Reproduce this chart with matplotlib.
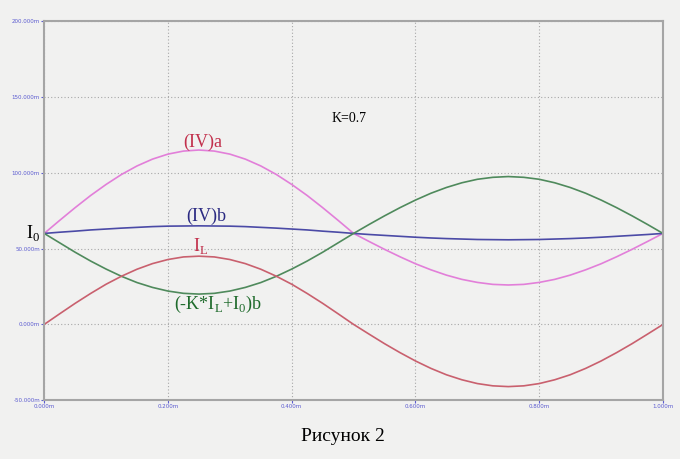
#!/usr/bin/env python3
"""Figure 2: currents over one period, K=0.7."""

import numpy as np
import matplotlib.pyplot as plt

# time axis, 0..1 (ms), 41 samples
T = np.linspace(0.0, 1.0, 41)

I_L = [0, 7.0, 13.9, 20.4, 26.5, 31.8, 36.4, 40.1, 42.8, 44.5, 45.0,
       44.5, 42.8, 40.1, 36.4, 31.8, 26.5, 20.4, 13.9, 7.0, 0,
       -6.4, -12.7, -18.6, -24.1, -29.0, -33.2, -36.5, -39.0, -40.5, -41.0,
       -40.5, -39.0, -36.5, -33.2, -29.0, -24.1, -18.6, -12.7, -6.4, 0]

IV_A = [60, 68.6, 77.0, 85.0, 92.3, 98.9, 104.5, 109.0, 112.3, 114.3, 115.0,
        114.3, 112.3, 109.0, 104.5, 98.9, 92.3, 85.0, 77.0, 68.6, 60,
        54.7, 49.5, 44.6, 40.0, 36.0, 32.5, 29.7, 27.7, 26.4, 26.0,
        26.4, 27.7, 29.7, 32.5, 36.0, 40.0, 44.6, 49.5, 54.7, 60]

IV_B = [60, 60.8, 61.5, 62.3, 62.9, 63.5, 64.0, 64.5, 64.8, 64.9, 65.0,
        64.9, 64.8, 64.5, 64.0, 63.5, 62.9, 62.3, 61.5, 60.8, 60,
        59.3, 58.7, 58.1, 57.5, 57.0, 56.6, 56.3, 56.0, 55.9, 55.8,
        55.9, 56.0, 56.3, 56.6, 57.0, 57.5, 58.1, 58.7, 59.3, 60]

KIL_B = [60, 53.8, 47.6, 41.8, 36.5, 31.7, 27.6, 24.4, 22.0, 20.5, 20.0,
         20.5, 22.0, 24.4, 27.6, 31.7, 36.5, 41.8, 47.6, 53.8, 60,
         65.9, 71.6, 77.0, 82.0, 86.5, 90.3, 93.4, 95.7, 97.0, 97.5,
         97.0, 95.7, 93.4, 90.3, 86.5, 82.0, 77.0, 71.6, 65.9, 60]

X_TICKS = [0.0, 0.2, 0.4, 0.6, 0.8, 1.0]
X_LABELS = ["0.000m", "0.200m", "0.400m", "0.600m", "0.800m", "1.000m"]
Y_TICKS = [-50, 0, 50, 100, 150, 200]
Y_LABELS = ["-50.000m", "0.000m", "50.000m", "100.000m", "150.000m", "200.000m"]

BG = "#f1f1f0"
SERIF = ["Liberation Serif", "DejaVu Serif"]

fig = plt.figure(figsize=(6.8, 4.59), dpi=100, facecolor=BG)
ax = fig.add_axes([0.065, 0.128, 0.91, 0.826], facecolor=BG)

ax.plot(T, IV_A, color="#e27fd9", linewidth=1.2)
ax.plot(T, IV_B, color="#4b4aa6", linewidth=1.2)
ax.plot(T, KIL_B, color="#4f8a5c", linewidth=1.2)
ax.plot(T, I_L, color="#c9606e", linewidth=1.2)

ax.set_xlim(0, 1)
ax.set_ylim(-50, 200)
ax.set_xticks(X_TICKS)
ax.set_xticklabels(X_LABELS)
ax.set_yticks(Y_TICKS)
ax.set_yticklabels(Y_LABELS)
ax.tick_params(labelsize=4, labelcolor="#5a5ad0", length=2, color="#5a5ad0", pad=1)
ax.grid(True, color="#a8a8a8", linestyle=(0, (1, 2)), linewidth=0.8)
for sp in ax.spines.values():
    sp.set_color("#a5a5a5")
    sp.set_linewidth(1.5)

ax.text(0.256, 120, "(IV)a", color="#c2304c", fontsize=13, family=SERIF,
        ha="center", va="center")
ax.text(0.262, 71, "(IV)b", color="#2b2a82", fontsize=13, family=SERIF,
        ha="center", va="center")
ax.text(0.252, 52, "I$_{\\mathregular{L}}$", color="#c2304c", fontsize=13,
        family=SERIF, ha="center", va="center")
ax.text(0.281, 13, "(-K*I$_{\\mathregular{L}}$+I$_{\\mathregular{0}}$)b",
        color="#1f6b2c", fontsize=13, family=SERIF, ha="center", va="center")
ax.text(-0.006, 60, "I$_{\\mathregular{0}}$", color="black", fontsize=13,
        family=SERIF, ha="right", va="center", clip_on=False)
ax.text(0.493, 136, "K=0.7", color="black", fontsize=10, family=SERIF,
        ha="center", va="center")

fig.text(0.505, 0.048, "Рисунок 2", color="black", fontsize=14, family=SERIF,
         ha="center", va="center")

fig.savefig("out.png", dpi=100, facecolor=BG)
plt.close(fig)
